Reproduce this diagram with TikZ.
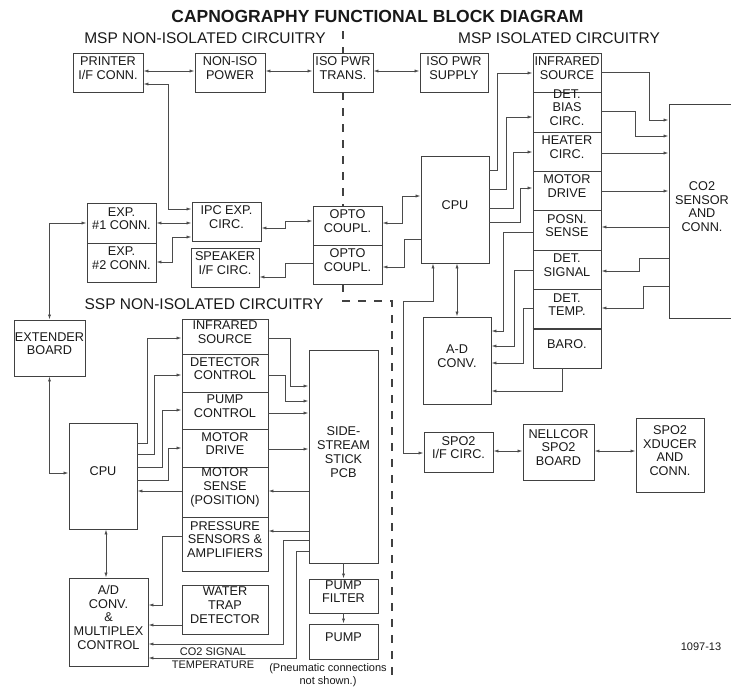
\documentclass[tikz,border=0pt]{standalone}
\usepackage{fontspec}
\setmainfont{Liberation Sans}
\usetikzlibrary{fit,arrows.meta}
\definecolor{boxc}{RGB}{65,65,65}
\definecolor{linec}{RGB}{75,75,75}
\definecolor{textc}{RGB}{25,25,25}
\newcommand\boxfont{\fontsize{12.7}{13.8}\selectfont}
\newcommand\smallfont{\fontsize{11}{13}\selectfont}
\newcommand\bx[6]{\node[blk, fit={(#2,#3) (#4,#5)}] (#1) {#6};}
\begin{document}
\begin{tikzpicture}[x=1pt,y=-1pt,
 blk/.style={draw=boxc, line width=0.95pt, inner sep=0pt, align=center, font=\boxfont, text=textc},
 arr/.style={draw=linec, line width=0.85pt, -{Latex[length=5pt,width=3.2pt]}},
 darr/.style={draw=linec, line width=0.85pt, {Latex[length=5pt,width=3.2pt]}-{Latex[length=5pt,width=3.2pt]}},
 sepline/.style={draw=boxc, line width=1.4pt, dash pattern=on 8pt off 8pt},
 lbl/.style={font=\smallfont, text=textc, inner sep=0pt, align=center}]
\useasboundingbox (0,0) rectangle (731,688);
\clip (0,0) rectangle (731,688);

% titles
\node[text=textc, inner sep=0pt, font=\fontsize{17.5}{20}\selectfont\bfseries] (title) at (377.5,16) {CAPNOGRAPHY FUNCTIONAL BLOCK DIAGRAM};
\node[text=textc, inner sep=0pt, font=\fontsize{15.5}{18}\selectfont] (mspn) at (205,38) {MSP NON-ISOLATED CIRCUITRY};
\node[text=textc, inner sep=0pt, font=\fontsize{15.5}{18}\selectfont] (mspi) at (559,38) {MSP ISOLATED CIRCUITRY};
\node[text=textc, inner sep=0pt, font=\fontsize{15.5}{18}\selectfont] (sspn) at (204,304) {SSP NON-ISOLATED CIRCUITRY};

% MSP non-isolated boxes
\bx{prn}{73}{53}{143}{92}{PRINTER\\I/F CONN.}
\bx{noniso}{195}{53}{265}{92}{NON-ISO\\POWER}
\bx{isotr}{313}{53}{373}{92}{ISO PWR\\TRANS.}
\bx{isosup}{420}{53}{488}{92}{ISO PWR\\SUPPLY}
\bx{exp1}{87}{203}{156}{243}{EXP.\\\#1 CONN.}
\bx{exp2}{87}{243}{156}{282}{EXP.\\\#2 CONN.}
\bx{ipc}{192}{202}{261}{241}{IPC EXP.\\CIRC.}
\bx{spk}{191}{248}{259}{287}{SPEAKER\\I/F CIRC.}
\bx{opto1}{313}{206}{382}{245}{OPTO\\COUPL.}
\bx{opto2}{313}{245}{382}{284}{OPTO\\COUPL.}

% MSP isolated boxes
\bx{cpu}{421}{156}{489}{263}{CPU}
\bx{irs}{533}{53}{601}{92}{INFRARED\\SOURCE}
\bx{dbias}{533}{92}{601}{132}{DET.\\BIAS\\CIRC.}
\bx{heat}{533}{132}{601}{171}{HEATER\\CIRC.}
\bx{mdrv}{533}{171}{601}{210}{MOTOR\\DRIVE}
\bx{posn}{533}{210}{601}{250}{POSN.\\SENSE}
\bx{dsig}{533}{250}{601}{289}{DET.\\SIGNAL}
\bx{dtemp}{533}{289}{601}{329}{DET.\\TEMP.}
\bx{baro}{533}{329}{601}{368}{BARO.}
\draw[boxc, line width=2pt] (dtemp.south west) -- (dtemp.south east);
\bx{co2}{669}{104}{735}{318}{CO2\\SENSOR\\AND\\CONN.}
\bx{adc}{423}{317}{491}{404}{A-D\\CONV.}
\bx{spoif}{424}{432}{493}{472}{SPO2\\I/F CIRC.}
\bx{nell}{523}{424}{594}{480}{NELLCOR\\SPO2\\BOARD}
\bx{xdcr}{636}{418}{704}{492}{SPO2\\XDUCER\\AND\\CONN.}

% SSP boxes
\bx{ext}{14}{320}{85}{376}{EXTENDER\\BOARD}
\bx{scpu}{69}{423}{137}{529}{CPU}
\bx{sirs}{182}{319}{268}{354}{INFRARED\\SOURCE}
\bx{sdet}{182}{354}{268}{392}{DETECTOR\\CONTROL}
\bx{spc}{182}{392}{268}{429}{PUMP\\CONTROL}
\bx{smd}{182}{429}{268}{467}{MOTOR\\DRIVE}
\bx{sms}{182}{467}{268}{517}{MOTOR\\SENSE\\(POSITION)}
\bx{sps}{182}{517}{268}{571}{PRESSURE\\SENSORS \&\\AMPLIFIERS}
\bx{pcb}{309}{350}{378}{563}{SIDE-\\STREAM\\STICK\\PCB}
\bx{pf}{309}{579}{378}{613}{PUMP\\FILTER}
\bx{pump}{309}{624}{378}{659}{PUMP}
\bx{sad}{69}{578}{148}{666}{A/D\\CONV.\\\&\\MULTIPLEX\\CONTROL}
\bx{wtd}{182}{585}{268}{634}{WATER\\TRAP\\DETECTOR}

% isolation boundary
\draw[sepline] (343,31) -- (isotr.north -| 343,0);
\draw[sepline] (isotr.south -| 343,0) -- (opto1.north -| 343,0);
\draw[sepline] (opto2.south -| 343,0) |- (392,301) -- (392,682);

% MSP non-isolated connectors
\draw[darr] (prn.east |- 0,71) -- (noniso.west |- 0,71);
\draw[darr] (noniso.east |- 0,71) -- (isotr.west |- 0,71);
\draw[darr] (isotr.east |- 0,71) -- (isosup.west |- 0,71);
\draw[darr] (prn.east |- 0,84) -| (168,209) -- (ipc.west |- 0,209);
\draw[darr] (ext.north) |- (exp1.west |- 0,223);
\draw[darr] (exp1.east |- 0,223) -- (ipc.west |- 0,223);
\draw[darr] (ipc.west |- 0,237) -| (172,262) -- (exp2.east |- 0,262);
\draw[darr] (ipc.east |- 0,228) -| (285,221) -- (opto1.west |- 0,221);
\draw[arr] (opto2.west |- 0,263) -| (285,277) -- (spk.east |- 0,277);
\draw[darr] (opto1.east |- 0,223) -| (402,196) -- (cpu.west |- 0,196);
\draw[arr] (cpu.west |- 0,239) -| (404,267) -- (opto2.east |- 0,267);

% MSP isolated connectors
\draw[arr] (cpu.east |- 0,170) -| (497,73) -- (irs.west |- 0,73);
\draw[arr] (cpu.east |- 0,189) -| (506,117) -- (dbias.west |- 0,117);
\draw[arr] (cpu.east |- 0,208) -| (513,152) -- (heat.west |- 0,152);
\draw[arr] (cpu.east |- 0,222) -| (520,188) -- (mdrv.west |- 0,188);
\draw[arr] (posn.west |- 0,232) -| (503,331) -- (adc.east |- 0,331);
\draw[arr] (dsig.west |- 0,270) -| (514,346) -- (adc.east |- 0,346);
\draw[arr] (dtemp.west |- 0,308) -| (523,363) -- (adc.east |- 0,363);
\draw[arr] (baro.south -| 562,0) |- (adc.east |- 0,391);
\draw[darr] (cpu.south -| 457,0) -- (adc.north -| 457,0);
\draw[darr] (cpu.south -| 433,0) -- (433,301) -| (403,453) -- (spoif.west |- 0,453);
\draw[darr] (spoif.east |- 0,451) -- (nell.west |- 0,451);
\draw[darr] (nell.east |- 0,451) -- (xdcr.west |- 0,451);
\draw[arr] (irs.east |- 0,72) -| (649,120) -- (co2.west |- 0,120);
\draw[arr] (dbias.east |- 0,111) -| (635,136) -- (co2.west |- 0,136);
\draw[arr] (heat.east |- 0,153) -- (co2.west |- 0,153);
\draw[arr] (mdrv.east |- 0,191) -- (co2.west |- 0,191);
\draw[arr] (co2.west |- 0,227) -- (posn.east |- 0,227);
\draw[arr] (co2.west |- 0,258) -| (639,271) -- (dsig.east |- 0,271);
\draw[arr] (co2.west |- 0,286) -| (643,308) -- (dtemp.east |- 0,308);

% SSP connectors
\draw[darr] (ext.south) |- (scpu.west |- 0,473);
\draw[arr] (scpu.east |- 0,443) -| (147,338) -- (sirs.west |- 0,338);
\draw[arr] (scpu.east |- 0,454) -| (154,375) -- (sdet.west |- 0,375);
\draw[arr] (scpu.east |- 0,467) -| (162,410) -- (spc.west |- 0,410);
\draw[arr] (scpu.east |- 0,480) -| (168,448) -- (smd.west |- 0,448);
\draw[arr] (sms.west |- 0,491) -- (scpu.east |- 0,491);
\draw[darr] (scpu.south -| 106,0) -- (sad.north -| 106,0);
\draw[arr] (sps.west |- 0,536) -| (162,605) -- (sad.east |- 0,605);
\draw[arr] (wtd.west |- 0,625) -- (sad.east |- 0,625);
\draw[arr] (pcb.west |- 0,540) -| (283,644) -- (sad.east |- 0,644);
\draw[arr] (pcb.west |- 0,551) -| (296,658) -- (sad.east |- 0,658);
\draw[arr] (sirs.east |- 0,338) -| (290,386) -- (pcb.west |- 0,386);
\draw[arr] (sdet.east |- 0,375) -| (285,401) -- (pcb.west |- 0,401);
\draw[arr] (spc.east |- 0,413) -- (pcb.west |- 0,413);
\draw[arr] (smd.east |- 0,449) -- (pcb.west |- 0,449);
\draw[arr] (pcb.west |- 0,491) -- (sms.east |- 0,491);
\draw[arr] (pcb.west |- 0,531) -- (sps.east |- 0,531);
\draw[arr] (pcb.south) -- (pf.north);
\draw[arr] (pf.south) -- (pump.north);

% labels
\node[lbl] (lco2) at (213,652) {CO2 SIGNAL};
\node[lbl] (ltemp) at (213,665) {TEMPERATURE};
\node[lbl] (lpn1) at (328,669) {(Pneumatic connections};
\node[lbl] (lpn2) at (328,682) {not shown.)};
\node[lbl] (fig) at (701,647) {1097-13};
\end{tikzpicture}
\end{document}
